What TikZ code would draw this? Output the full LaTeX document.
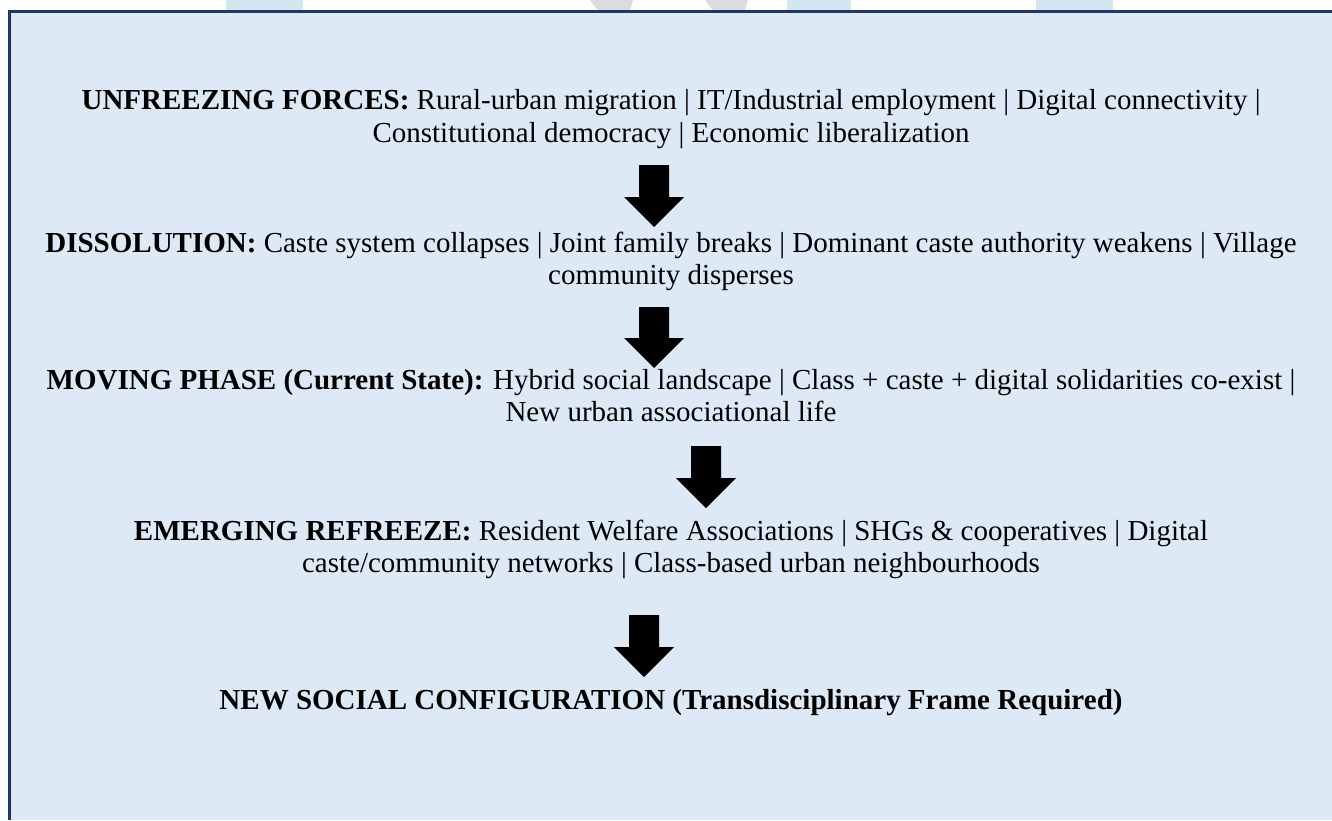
\documentclass[tikz,border=0pt]{standalone}
\usepackage{fontspec}
\setmainfont{Liberation Serif}
\definecolor{boxfill}{RGB}{221,233,245}
\definecolor{boxline}{RGB}{31,56,100}
\definecolor{wmblue}{RGB}{212,230,240}
\definecolor{wmgray}{RGB}{220,220,220}
\tikzset{
  txt/.style={anchor=base, inner sep=0pt, font=\fontsize{29}{33}\selectfont, text=black},
  blockarrow/.style={fill=black, draw=none}
}
\newcommand{\myarrow}[3]{% #1 centre x, #2 top y, #3 head start y
  \path[blockarrow] ({#1-15},#2) -- ({#1+15},#2) -- ({#1+15},#3) -- ({#1+30},#3)
    -- (#1,{#3+30}) -- ({#1-30},#3) -- ({#1-15},#3) -- cycle;}
\begin{document}
\begin{tikzpicture}[x=1pt,y=-1pt]
\useasboundingbox (0,0) rectangle (1332,820);
% watermark fragments above the box
\fill[wmblue] (226,0) rectangle (303,10);
\fill[wmblue] (787,0) rectangle (851,10);
\fill[wmblue] (1036,0) rectangle (1113,10);
\fill[wmgray] (590,0) -- (633,0) -- (630,10) -- (598,10) .. controls (594,6) .. cycle;
\fill[wmgray] (705,0) -- (748,0) -- (745,10) -- (713,10) .. controls (709,6) .. cycle;
% panel
\fill[boxfill] (9.25,11.25) rectangle (1332,820);
\draw[boxline, line width=2.5pt] (9.25,820) -- (9.25,11.25) -- (1332,11.25);
% texts
\node[txt] (u1) at (671,109) {\textbf{UNFREEZING FORCES:} Rural-urban migration | IT/Industrial employment | Digital connectivity |};
\node[txt] (u2) at (671,142) {Constitutional democracy | Economic liberalization};
\myarrow{654}{165}{197}
\node[txt] (d1) at (671,252) {\textbf{DISSOLUTION:} Caste system collapses | Joint family breaks | Dominant caste authority weakens | Village};
\node[txt] (d2) at (671,284) {community disperses};
\myarrow{654}{307}{338}
\node[txt] (m1) at (671,389) {\textbf{MOVING PHASE (Current State):} Hybrid social landscape | Class + caste + digital solidarities co-exist |};
\node[txt] (m2) at (671,421) {New urban associational life};
\myarrow{706}{446}{478}
\node[txt] (e1) at (671,540) {\textbf{EMERGING REFREEZE:} Resident Welfare Associations | SHGs \& cooperatives | Digital};
\node[txt] (e2) at (671,572) {caste/community networks | Class-based urban neighbourhoods};
\myarrow{644}{615}{647}
\node[txt] (n1) at (671,709) {\textbf{NEW SOCIAL CONFIGURATION (Transdisciplinary Frame Required)}};
\end{tikzpicture}
\end{document}
